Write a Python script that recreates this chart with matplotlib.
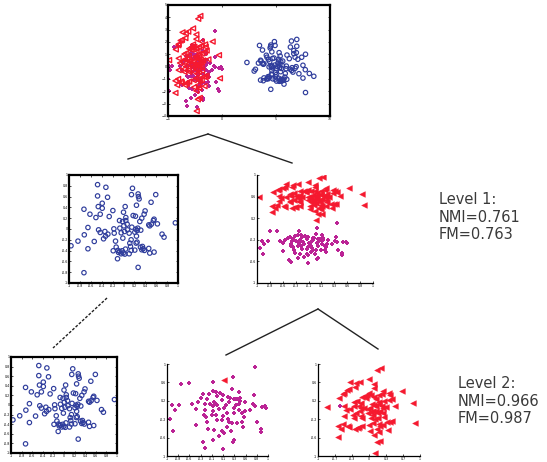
import numpy as np
import matplotlib
matplotlib.use("Agg")
import matplotlib.pyplot as plt
from matplotlib.lines import Line2D

# ---------------- point readings -----------------------------
# blue cluster, read in a frame x 57..385, y 15..340 (y grows downward)
blue_x = [143, 168, 248, 143, 173, 245, 265, 266, 268, 318, 157, 145, 157, 304, 260, 226,
          102, 120, 138, 151, 189, 178, 286, 283, 250, 257, 221, 228, 218, 209, 232, 228,
          270, 276, 313, 377, 323, 297, 305, 311, 300, 114, 146, 151, 165, 192, 210, 222,
          233, 246, 258, 264, 262, 273, 255, 260, 238, 224, 214, 193, 174, 161, 167, 103,
          84, 133, 63, 114, 197, 219, 244, 240, 262, 278, 259, 337, 343, 190, 199, 204,
          206, 210, 217, 220, 214, 225, 238, 227, 242, 244, 255, 272, 276, 280, 284, 297,
          300, 313, 203, 265, 102]
blue_y = [44, 52, 55, 78, 82, 74, 72, 80, 87, 74, 100, 110, 115, 97, 106, 110,
          118, 133, 143, 133, 122, 140, 123, 133, 137, 139, 127, 143, 155, 152, 163, 152,
          155, 145, 148, 159, 162, 165, 163, 152, 168, 173, 180, 188, 185, 177, 175, 168,
          180, 172, 178, 175, 182, 181, 187, 199, 190, 185, 189, 190, 193, 207, 199, 195,
          214, 215, 228, 237, 214, 205, 210, 220, 217, 230, 220, 193, 202, 243, 232, 242,
          248, 245, 243, 250, 252, 253, 252, 238, 230, 242, 241, 232, 240, 237, 242, 236,
          250, 247, 267, 293, 309]
blue_frame = (57, 385, 15, 340)

# magenta cluster, frame x 37..340, y 57..338
mag_x = [302, 104, 79, 176, 235, 174, 233, 146, 162, 183, 196, 205, 253, 298, 138, 156,
         187, 221, 227, 240, 247, 238, 255, 130, 178, 183, 165, 175, 202, 222, 255, 272,
         52, 72, 111, 152, 188, 215, 244, 254, 296, 301, 323, 332, 335, 60, 123, 150,
         175, 193, 208, 237, 254, 270, 285, 148, 172, 184, 205, 216, 238, 262, 267, 47,
         155, 158, 186, 202, 220, 222, 232, 248, 262, 306, 124, 216, 266, 55, 161, 178,
         201, 207, 203, 230, 318, 319, 192, 238, 236, 174, 144, 150, 205]
mag_y = [66, 114, 118, 112, 97, 138, 132, 150, 148, 142, 145, 152, 143, 152, 162, 165,
         156, 157, 160, 163, 163, 165, 160, 172, 172, 178, 178, 185, 168, 173, 170, 172,
         181, 181, 180, 180, 183, 183, 181, 178, 180, 185, 187, 186, 192, 196, 194, 198,
         200, 195, 192, 190, 196, 200, 196, 213, 213, 213, 217, 208, 207, 208, 218, 225,
         218, 233, 228, 228, 225, 234, 236, 237, 233, 233, 243, 248, 248, 263, 255, 258,
         262, 268, 262, 262, 257, 265, 278, 288, 294, 288, 296, 314, 318]
mag_frame = (37, 340, 57, 338)

# red cluster, frame x 53..360, y 57..345
red_x = [243, 232, 205, 150, 167, 180, 130, 140, 147, 165, 222, 222, 250, 307, 115, 128,
         185, 195, 200, 205, 212, 237, 247, 268, 271, 80, 130, 160, 170, 183, 198, 221,
         228, 238, 253, 266, 276, 137, 150, 162, 175, 182, 190, 203, 210, 217, 222, 228,
         237, 245, 250, 258, 285, 340, 130, 158, 168, 180, 182, 203, 212, 220, 228, 235,
         240, 250, 252, 220, 212, 225, 235, 160, 185, 113, 127, 143, 146, 163, 172, 175,
         185, 208, 220, 236, 240, 250, 262, 270, 275, 345, 122, 210, 231, 237, 265, 222,
         113, 230, 240, 224]
red_y = [68, 76, 103, 114, 117, 112, 147, 137, 135, 130, 120, 133, 140, 140, 162, 150,
         160, 157, 155, 148, 155, 155, 152, 148, 155, 192, 187, 175, 172, 180, 163, 160,
         167, 175, 173, 170, 165, 200, 197, 190, 190, 195, 195, 197, 195, 182, 185, 188,
         182, 190, 195, 193, 190, 178, 220, 217, 210, 203, 220, 210, 208, 205, 205, 210,
         205, 210, 222, 217, 225, 230, 225, 225, 225, 250, 245, 252, 255, 262, 258, 255,
         252, 248, 243, 245, 250, 248, 238, 240, 236, 243, 262, 268, 262, 270, 265, 278,
         284, 302, 298, 335]
red_frame = (53, 360, 57, 345)

# stray points: a red one inside the magenta group and a magenta one in the red group
stray_red = ([207], [107])
stray_mag = ([118], [190])

label1 = "Level 1:\nNMI=0.761\nFM=0.763"
label2 = "Level 2:\nNMI=0.966\nFM=0.987"

top_xticks = [-5, 0, 5, 10]
top_yticks = [-4, -3, -2, -1, 0, 1, 2, 3, 4, 5]

BLUE = "#2f3d9c"
RED = "#f5192f"
MAG = "#bb2395"

W, H = 547, 462
fig = plt.figure(figsize=(W / 100, H / 100), dpi=100)


def unit(xs, ys, frame):
    x0, x1, y0, y1 = frame
    u = (np.array(xs, float) - x0) / (x1 - x0)
    v = (y1 - np.array(ys, float)) / (y1 - y0)
    return u, v


def place(u, v, box):
    # map unit coords into an (xa, xb, ya, yb) box of a panel
    xa, xb, ya, yb = box
    return xa + u * (xb - xa), ya + v * (yb - ya)


def px_axes(l, t, r, b):
    return fig.add_axes([l / W, 1 - b / H, (r - l) / W, (b - t) / H])


def style(ax, nx, ny, boxed):
    ax.set_xlim(0, 1)
    ax.set_ylim(0, 1)
    ax.set_xticks(np.linspace(0, 1, nx + 1))
    ax.set_yticks(np.linspace(0, 1, ny + 1))
    ax.set_xticklabels(["%g" % t for t in np.round(np.linspace(-1, 1, nx + 1), 1)])
    ax.set_yticklabels(["%g" % t for t in np.round(np.linspace(-1, 1, ny + 1), 1)])
    ax.tick_params(direction="in", length=1.5, width=0.5, labelsize=2.3, pad=0.8,
                   top=boxed, right=boxed)
    for s in ax.spines.values():
        s.set_linewidth(1.6 if boxed else 0.9)
    if not boxed:
        ax.spines["top"].set_visible(False)
        ax.spines["right"].set_visible(False)
    ax.patch.set_alpha(0)


bu, bv = unit(blue_x, blue_y, blue_frame)
mu, mv = unit(mag_x, mag_y, mag_frame)
ru, rv = unit(red_x, red_y, red_frame)
sru, srv = unit(*stray_red, mag_frame)
smu, smv = unit(*stray_mag, red_frame)

circ = dict(marker="o", s=10, facecolors="none", edgecolors=BLUE, linewidths=0.85)
tri = dict(marker="<", s=17, color=RED, linewidths=0.3)
plus = dict(marker="P", s=9, color=MAG, linewidths=0)

# ---------------- top: all data -----------------------------
ax = px_axes(168, 5, 330, 116)
x, y = place(mu, mv, (-5.2, 0.05, -3.79, 3.11))
ax.scatter(x, y, **plus)
x, y = place(ru, rv, (-5.38, 0.07, -3.89, 4.43))
ax.scatter(x, y, marker="<", s=13, facecolors="none", edgecolors=RED, linewidths=1.0)
x, y = place(bu, bv, (8.62, 2.15, -2.6, 2.68))
ax.scatter(x, y, **circ)
ax.set_xlim(-5, 10)
ax.set_ylim(-4, 5)
ax.set_xticks(top_xticks)
ax.set_yticks(top_yticks)
ax.tick_params(direction="in", length=1.5, width=0.5, labelsize=2.3, pad=0.8,
               top=True, right=True)
for s in ax.spines.values():
    s.set_linewidth(1.6)

# ---------------- level 1 -----------------------------
ax = px_axes(69, 175, 178, 283)
ax.scatter(bu, bv, **circ)
style(ax, 10, 10, True)

ax = px_axes(257, 175, 373, 283)
x, y = place(mu, mv, (0.003, 0.787, 0.156, 0.566))
ax.scatter(x, y, **plus)
x, y = place(ru, rv, (-0.078, 0.973, 0.570, 1.002))
ax.scatter(x, y, **tri)
style(ax, 9, 5, False)

# ---------------- level 2 -----------------------------
ax = px_axes(11, 357, 117, 453)
ax.scatter(bu, bv, **circ)
style(ax, 10, 10, True)

ax = px_axes(167, 364, 268, 456)
ax.scatter(mu, mv, **plus)
ax.scatter(sru, srv, **tri)
style(ax, 9, 5, False)

ax = px_axes(318, 364, 420, 456)
ax.scatter(ru, rv, **tri)
ax.scatter(smu, smv, **plus)
style(ax, 6, 5, False)

# ---------------- tree lines -----------------------------
def link(p, q, **kw):
    fig.add_artist(Line2D([p[0] / W, q[0] / W], [1 - p[1] / H, 1 - q[1] / H],
                          transform=fig.transFigure, color="#222222", lw=1.0, **kw))

link((208, 134), (128, 159))
link((208, 134), (292, 163))
link((107, 298), (53, 348), ls=(0, (2, 1.2)))
link((318, 309), (226, 355))
link((318, 309), (378, 349))

fig.text(439 / W, 1 - 192 / H, label1, fontsize=10.5, color="#3a3a3a",
         va="top", ha="left", linespacing=1.22, family="DejaVu Sans")
fig.text(458 / W, 1 - 376 / H, label2, fontsize=10.5, color="#3a3a3a",
         va="top", ha="left", linespacing=1.22, family="DejaVu Sans")

fig.savefig("out.png", dpi=100)
